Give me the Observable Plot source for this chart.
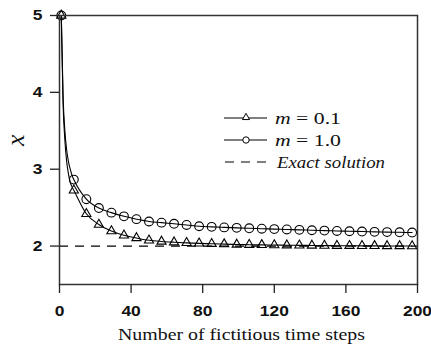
<!DOCTYPE html>
<html><head><meta charset="utf-8">
<script src="https://cdn.jsdelivr.net/npm/d3@7"></script>
<script src="https://cdn.jsdelivr.net/npm/@observablehq/plot@0.6"></script>
<style>
body{margin:0;background:#fff}
svg{display:block}
</style></head><body><div id="chart"></div>
<script>
// ---- data ----
const markerSteps = d3.range(29).map(k => 1 + 7 * k); // 1, 8, 15, ..., 197
const m10 = [5, 2.865, 2.61, 2.495, 2.435, 2.387, 2.35, 2.32, 2.305, 2.29, 2.275, 2.258, 2.25, 2.243, 2.237, 2.231, 2.226, 2.221, 2.216, 2.211, 2.206, 2.201, 2.197, 2.193, 2.189, 2.185, 2.182, 2.179, 2.176];
const m01 = [5, 2.725, 2.42, 2.28, 2.195, 2.14, 2.105, 2.075, 2.06, 2.05, 2.042, 2.035, 2.03, 2.025, 2.021, 2.018, 2.015, 2.013, 2.011, 2.009, 2.008, 2.006, 2.005, 2.004, 2.003, 2.002, 2.001, 2.001, 2.0];
const earlySteps = [2, 3, 4, 5, 6, 7];
const m10Early = [3.95, 3.5, 3.25, 3.1, 3.0, 2.92];
const m01Early = [3.85, 3.38, 3.1, 2.94, 2.83, 2.77];
const exactValue = 2;
const xTicks = [0, 40, 80, 120, 160, 200];
const yTicks = [2, 3, 4, 5];
const xLabel = "Number of fictitious time steps";
const yLabel = "x";
const legendLabels = [["m", " = 0.1"], ["m", " = 1.0"], ["", "Exact solution"]];
const legendKinds = ["triangle", "circle", "dash"];

// ---- tables ----
const markers = [
  ...markerSteps.map((s, i) => ({step: s, value: m01[i], series: "m01"})),
  ...markerSteps.map((s, i) => ({step: s, value: m10[i], series: "m10"}))
];
function lineTable(vals, early, series) {
  return [...markerSteps.map((s, i) => ({step: s, value: vals[i], series})),
          ...earlySteps.map((s, i) => ({step: s, value: early[i], series}))]
    .sort((a, b) => a.step - b.step);
}
const lines = [...lineTable(m01, m01Early, "m01"), ...lineTable(m10, m10Early, "m10")];

const SERIF = "'Liberation Serif','Times New Roman',serif";
const SANS = "'Liberation Sans',Arial,sans-serif";

function legendMark(index, scales, values, dims) {
  const g = d3.create("svg:g");
  const x0 = dims.width - dims.marginRight - 193;
  const y0 = dims.marginTop + 103;
  const widths = [66, 66, 108];
  legendKinds.forEach((kind, i) => {
    const y = y0 + i * 22;
    const line = g.append("line")
      .attr("x1", x0).attr("x2", x0 + 43).attr("y1", y).attr("y2", y)
      .attr("stroke", "black").attr("stroke-width", 1.1);
    if (kind === "dash") line.attr("stroke-dasharray", "9,7").attr("x1", x0 + 1);
    if (kind === "triangle") {
      g.append("path").attr("d", d3.symbol(d3.symbolTriangle, 22)())
        .attr("transform", `translate(${x0 + 22},${y - 0.5})`)
        .attr("fill", "white").attr("stroke", "black").attr("stroke-width", 1);
    }
    if (kind === "circle") {
      g.append("circle").attr("cx", x0 + 22).attr("cy", y).attr("r", 3.2)
        .attr("fill", "white").attr("stroke", "black").attr("stroke-width", 1);
    }
    const t = g.append("text")
      .attr("x", x0 + (kind === "dash" ? 53 : 51)).attr("y", y)
      .attr("dy", "0.35em")
      .attr("text-anchor", "start")
      .attr("font-weight", "normal")
      .attr("fill", "#111")
      .attr("font-family", SERIF).attr("font-size", 17)
      .attr("textLength", widths[i]).attr("lengthAdjust", "spacingAndGlyphs");
    const [a, b] = legendLabels[i];
    if (a) {
      t.append("tspan").attr("font-style", "italic").text(a);
      t.append("tspan").text(b);
    } else {
      t.attr("font-style", "italic").text(b);
    }
  });
  return g.node();
}

const plot = Plot.plot({
  width: 431,
  height: 347,
  marginLeft: 59,
  marginRight: 14,
  marginTop: 15,
  marginBottom: 63,
  style: {fontFamily: SANS, fontSize: "15px", fontWeight: "bold", color: "#111", background: "white"},
  x: {domain: [0, 200], ticks: xTicks},
  y: {domain: [1.5, 5], ticks: yTicks},
  marks: [
    Plot.ruleY([exactValue], {stroke: "black", strokeWidth: 1.2, strokeDasharray: "9,7"}),
    Plot.line(lines, {x: "step", y: "value", z: "series", curve: "monotone-x", stroke: "black", strokeWidth: 1.1}),
    Plot.dot(markers.filter(d => d.series === "m01"), {x: "step", y: "value", symbol: "triangle", r: 3.4, stroke: "black", strokeWidth: 1.1, fill: "none"}),
    Plot.dot(markers.filter(d => d.series === "m10"), {x: "step", y: "value", symbol: "circle", r: 4.4, stroke: "black", strokeWidth: 1.1, fill: "none"}),
    Plot.frame({stroke: "#333", strokeWidth: 1.5}),
    Plot.axisX({ticks: xTicks, tickSize: 9, tickPadding: 12, tickFormat: d => String(d), label: null, stroke: "#222", strokeWidth: 1.3}),
    Plot.axisY({ticks: yTicks, tickSize: 9, tickPadding: 8, tickFormat: d => String(d), label: null, stroke: "#222", strokeWidth: 1.3}),
    Plot.text([xLabel], {text: d => d, frameAnchor: "bottom", dy: 55, dx: 3, lineAnchor: "bottom",
      fontFamily: SERIF, fontSize: 16.5, fontWeight: "normal", fill: "#111", className: "xlabel"}),
    Plot.text([yLabel], {text: d => d, frameAnchor: "left", dx: -44, dy: -4, rotate: -90,
      fontFamily: SERIF, fontSize: 26, fontStyle: "italic", fontWeight: "normal", fill: "#111"}),
    legendMark
  ]
});
document.getElementById("chart").appendChild(plot);

// the reference figure is horizontally stretched: widen text to match
d3.select(plot).selectAll('g[aria-label="x-axis tick label"] text, g[aria-label="y-axis tick label"] text').each(function() {
  const w = this.getComputedTextLength();
  this.setAttribute("textLength", (w * 1.16).toFixed(1));
  this.setAttribute("lengthAdjust", "spacingAndGlyphs");
});
d3.select(plot).selectAll('.xlabel text').each(function() {
  this.setAttribute("textLength", 247);
  this.setAttribute("lengthAdjust", "spacingAndGlyphs");
});
</script>
</body></html>
